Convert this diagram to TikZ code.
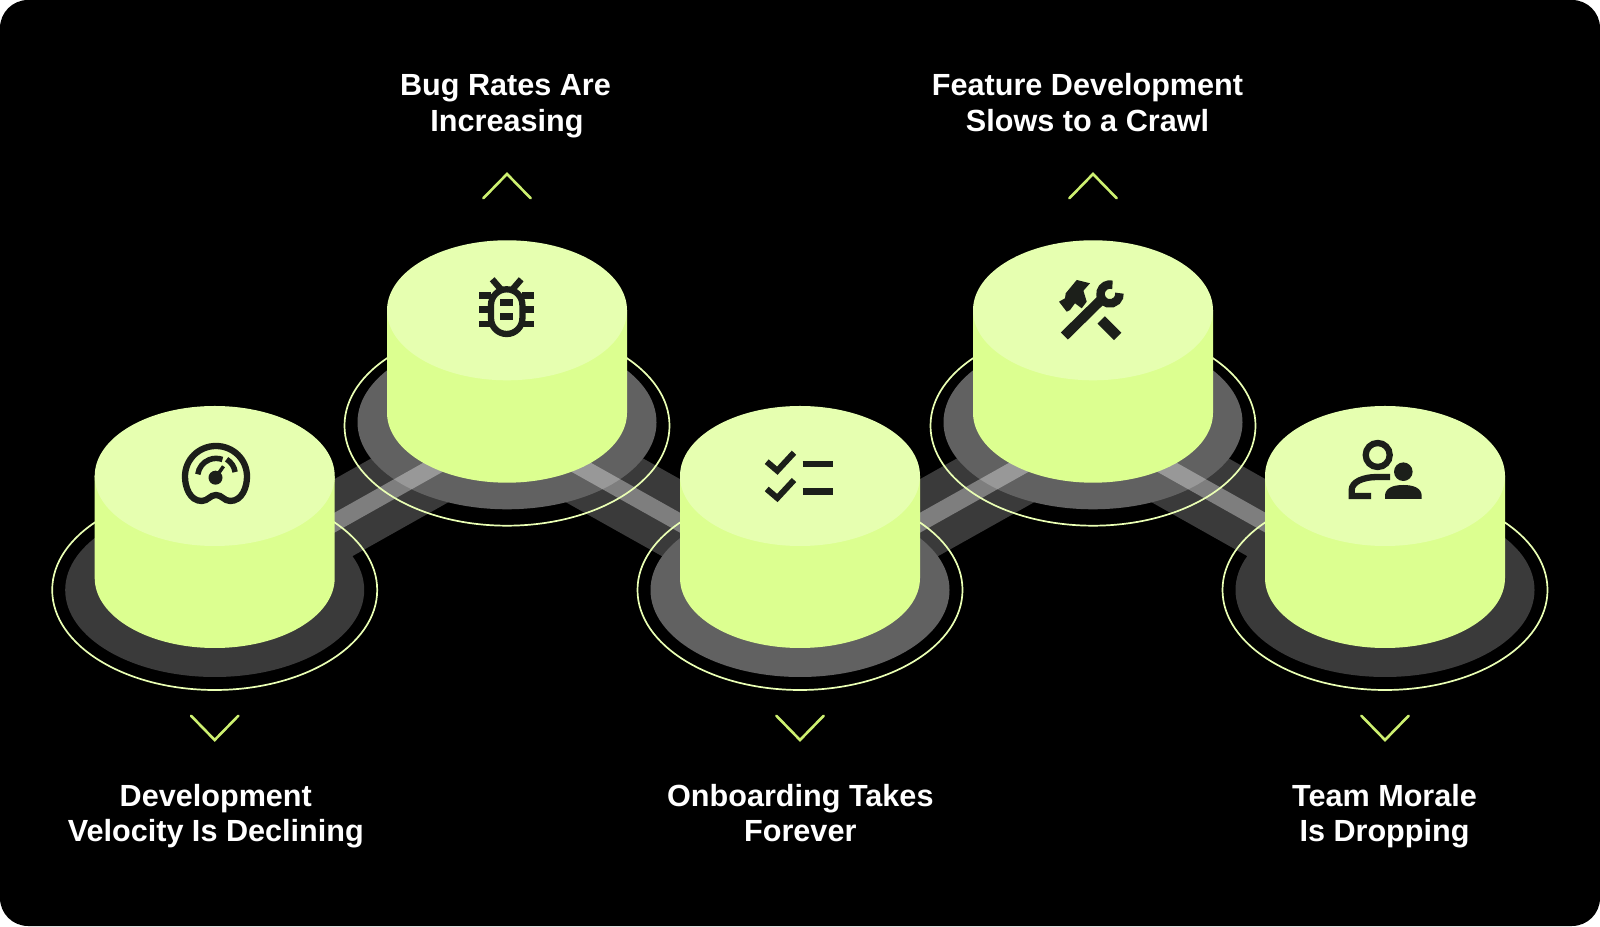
\documentclass[tikz,border=0pt]{standalone}
\usepackage{fontspec}
\setmainfont{Liberation Sans}
\definecolor{cylside}{HTML}{DCFF90}
\definecolor{cyltop}{HTML}{E6FFB0}
\definecolor{ringline}{HTML}{EAFFB4}
\definecolor{chevron}{HTML}{CDF070}
\definecolor{diskdark}{HTML}{3A3A3A}
\definecolor{disklight}{HTML}{616161}
\definecolor{iconink}{HTML}{1C1F1A}
\tikzset{
    bandwide/.style={diskdark,line width=76pt},
    bandlight/.style={white,opacity=0.35,line width=17.4pt},
    ringstyle/.style={ringline,line width=1.7pt},
    chevronstyle/.style={chevron,line width=2.6pt,line cap=round,line join=miter},
    cyltext/.style={white,font=\fontsize{30.6}{36}\selectfont\bfseries,align=center},
    iconline/.style={iconink,line width=6.3pt},
    iconfill/.style={iconink,draw=none,fill=iconink},
}
\begin{document}
\begin{tikzpicture}[x=1pt,y=1pt]
    \useasboundingbox (0,0) rectangle (1600,926);
    \fill[white] (0,0) rectangle (1600,926);
    \fill[black,rounded corners=28pt] (0,0) rectangle (1600,926);
    %centres of the rings
    \coordinate (disk1) at (214.7,336);
    \coordinate (disk2) at (507,500.3);
    \coordinate (disk3) at (800,336);
    \coordinate (disk4) at (1093,500.3);
    \coordinate (disk5) at (1385,336);
    %wide bands
    \draw [bandwide] (disk1) -- (disk2);
    \draw [bandwide] (disk2) -- (disk3);
    \draw [bandwide] (disk3) -- (disk4);
    \draw [bandwide] (disk4) -- (disk5);
    %disks
    \fill [diskdark] (disk1) ellipse (149.5 and 87);
    \fill [disklight] ([yshift=3.4pt]disk2) ellipse (149.5 and 87);
    \fill [disklight] (disk3) ellipse (149.5 and 87);
    \fill [disklight] ([yshift=3.4pt]disk4) ellipse (149.5 and 87);
    \fill [diskdark] (disk5) ellipse (149.5 and 87);
    %thin bands
    \draw [bandlight] (disk1) -- (disk2);
    \draw [bandlight] (disk2) -- (disk3);
    \draw [bandlight] (disk3) -- (disk4);
    \draw [bandlight] (disk4) -- (disk5);
    %rings
    \draw [ringstyle] (disk1) ellipse (162.5 and 100);
    \draw [ringstyle] (disk2) ellipse (162.5 and 100);
    \draw [ringstyle] (disk3) ellipse (162.5 and 100);
    \draw [ringstyle] (disk4) ellipse (162.5 and 100);
    \draw [ringstyle] (disk5) ellipse (162.5 and 100);
    %cylinders
    \fill [cylside] (94.7,450) -- (94.7,348) arc(180:360:120 and 70) -- (334.7,450) -- cycle;
    \fill [cyltop] (214.7,450) ellipse (120 and 70);
    \fill [cylside] (387,615.7) -- (387,513.3) arc(180:360:120 and 70) -- (627,615.7) -- cycle;
    \fill [cyltop] (507,615.7) ellipse (120 and 70);
    \fill [cylside] (680,450) -- (680,348) arc(180:360:120 and 70) -- (920,450) -- cycle;
    \fill [cyltop] (800,450) ellipse (120 and 70);
    \fill [cylside] (973,615.7) -- (973,513.3) arc(180:360:120 and 70) -- (1213,615.7) -- cycle;
    \fill [cyltop] (1093,615.7) ellipse (120 and 70);
    \fill [cylside] (1265,450) -- (1265,348) arc(180:360:120 and 70) -- (1505,450) -- cycle;
    \fill [cyltop] (1385,450) ellipse (120 and 70);
    %chevrons
    \draw [chevronstyle] (191,210.3) -- (214.7,186) -- (238.4,210.3);
    \draw [chevronstyle] (776.3,210.3) -- (800,186) -- (823.7,210.3);
    \draw [chevronstyle] (1361.3,210.3) -- (1385,186) -- (1408.7,210.3);
    \draw [chevronstyle] (483.3,727.7) -- (507,752) -- (530.7,727.7);
    \draw [chevronstyle] (1069.3,727.7) -- (1093,752) -- (1116.7,727.7);
    %labels
    \node (velocity) at (215.8,109.2) [cyltext] {\strut Development\\Velocity Is Declining\strut};
    \node (bugs) at (507,819.2) [cyltext] {\strut Bug Rates Are\kern3pt\\Increasing\strut};
    \node (onboarding) at (800.3,109.2) [cyltext] {\strut Onboarding Takes\\Forever\strut};
    \node (feature) at (1087.5,819.2) [cyltext] {\strut Feature Development\\Slows to a Crawl\strut};
    \node (morale) at (1384.5,109.2) [cyltext] {\strut Team Morale\\Is Dropping\strut};
    %gauge
    \begin{scope}[shift={(216,452.7)}]
        \draw [iconline] (0,27.3) .. controls (-17,27.3) and (-31,14) .. (-31,-3.3)
            .. controls (-31,-14) and (-26,-27.7) .. (-14.3,-27.7)
            .. controls (-8,-27.7) and (-6,-21.7) .. (0,-21.7)
            .. controls (6,-21.7) and (8,-27.7) .. (14.3,-27.7)
            .. controls (26,-27.7) and (31,-14) .. (31,-3.3)
            .. controls (31,14) and (17,27.3) .. (0,27.3) -- cycle;
        \draw [iconline,line width=5.5pt] (-18.2,-1) arc(172:70:18.5);
        \draw [iconline,line width=5.5pt] (10.6,14) arc(58:8:18.5 and 18);
        \fill [iconfill] (-0.5,-4.4) circle(7);
        \draw [iconline,line width=3.5pt] (-0.5,-4.4) -- (7.5,7);
    \end{scope}
    %bug
    \begin{scope}[shift={(506.7,617.7)}]
        \draw [iconline,rounded corners=15.7pt] (-15.7,-25.7) rectangle (15.7,19);
        \draw [iconline] (-27.3,12.7) -- (-15.7,12.7);
        \draw [iconline] (-27.3,-1.3) -- (-15.7,-1.3);
        \draw [iconline] (-27.3,-15.7) -- (-15.7,-15.7);
        \draw [iconline] (27.3,12.7) -- (15.7,12.7);
        \draw [iconline] (27.3,-1.3) -- (15.7,-1.3);
        \draw [iconline] (27.3,-15.7) -- (15.7,-15.7);
        \draw [iconline] (-5,18) -- (-14.5,29);
        \draw [iconline] (5,18) -- (14.5,29);
        \draw [iconline] (-6.7,5.7) -- (6.7,5.7);
        \draw [iconline] (-6.7,-8.3) -- (6.7,-8.3);
    \end{scope}
    %checklist
    \begin{scope}[shift={(800,449.3)}]
        \draw [iconline,line width=6pt] (-33.3,15) -- (-22.7,6) -- (-6,24);
        \draw [iconline,line width=6pt] (-33.3,-12.3) -- (-22.7,-21.3) -- (-6,-3.3);
        \draw [iconline,line width=6.5pt] (2.7,12.7) -- (32.7,12.7);
        \draw [iconline,line width=6.5pt] (2.7,-15) -- (32.7,-15);
    \end{scope}
    %tools
    \begin{scope}[shift={(1090.7,616)}]
        \draw [iconline,line width=10pt] (-26.3,-26) -- (11,10.7);
        \draw [iconline,line width=8.5pt] (19.3,16)+(75:9.5) arc(75:365:9.5);
        \fill [iconfill] (-14,30) -- (-0.7,26.7) -- (-7.3,19.3) -- (-4,8.3) -- (-9,1.7)
            -- (-15.7,6.7) -- (-20.7,0) -- (-24,-1.7) -- (-31.7,8.3) -- (-25.7,11.7) -- (-25,16.7) -- cycle;
        \draw [iconline,line width=10.5pt] (10.5,-10) -- (27,-26.5);
    \end{scope}
    %people
    \begin{scope}[shift={(1385,456)}]
        \draw [iconline,line width=6.3pt] (-7.3,15) circle(12);
        \draw [iconline,line width=6.3pt] (5,-7) -- (-8,-7) .. controls (-22,-7) and (-33.3,-12) .. (-33.3,-20)
            -- (-33.3,-26) -- (-14,-26);
        \fill [iconfill] (18.3,-1.7) circle(9.3);
        \fill [iconfill] (0,-29) -- (0,-26) .. controls (0,-18) and (8,-15) .. (18.3,-15)
            .. controls (28.5,-15) and (36.7,-18) .. (36.7,-26) -- (36.7,-29) -- cycle;
    \end{scope}
\end{tikzpicture}
\end{document}
